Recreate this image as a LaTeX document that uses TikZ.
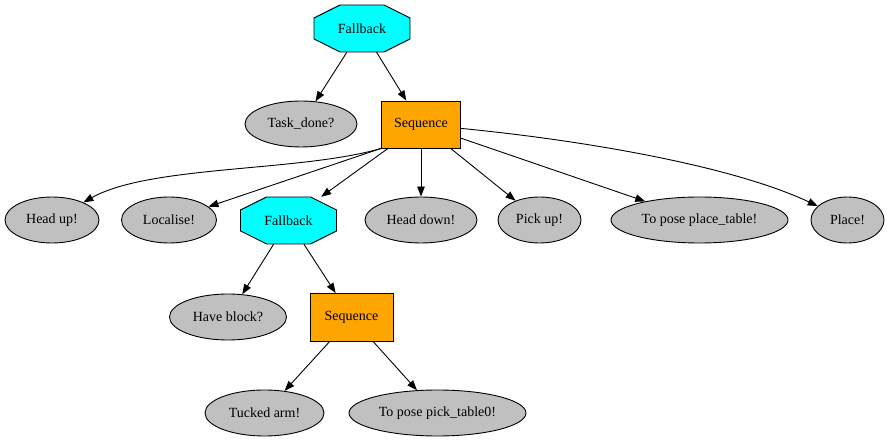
\documentclass[tikz,border=0pt]{standalone}
\usepackage{fontspec}
\setmainfont{Liberation Serif}
\usetikzlibrary{shapes.geometric,arrows.meta,backgrounds}
\definecolor{leafgray}{RGB}{192,192,192}
\definecolor{selcyan}{RGB}{0,255,255}
\definecolor{seqorange}{RGB}{255,165,0}
\tikzset{
  every node/.style={font=\fontsize{14pt}{16pt}\selectfont, inner sep=0pt},
  leaf/.style={ellipse, draw, line width=0.9pt, fill=leafgray, minimum height=46pt},
  seqbox/.style={rectangle, draw, line width=0.9pt, fill=seqorange, minimum width=79pt, minimum height=47pt},
  selbox/.style={rectangle, minimum width=96pt, minimum height=47pt},
  octo/.style={draw, line width=0.9pt, fill=selcyan},
  edge/.style={line width=0.9pt, -{Triangle[length=10pt,width=7.5pt]}}
}
\begin{document}
\begin{tikzpicture}[x=1pt,y=-1pt]
\useasboundingbox (0,0) rectangle (889,443);

% first level
\node[selbox] (fb1) at (362,28.5) {Fallback};
\node[leaf, minimum width=112pt] (done) at (301,124) {Task\_done?};
\node[seqbox] (seq1) at (421,124.5) {Sequence};

% children of the main sequence
\node[leaf, minimum width=94pt]  (headup)   at (52,220)  {Head up!};
\node[leaf, minimum width=95pt]  (localise) at (169,220) {Localise!};
\node[selbox] (fb2) at (288.5,220.5) {Fallback};
\node[leaf, minimum width=112pt] (headdown) at (421,220) {Head down!};
\node[leaf, minimum width=83pt]  (pickup)   at (539.5,220) {Pick up!};
\node[leaf, minimum width=177pt] (toplace)  at (699.5,220) {To pose place\_table!};
\node[leaf, minimum width=73pt]  (place)    at (847.5,220) {Place!};

% inner fallback
\node[leaf, minimum width=117pt] (block) at (228,317) {Have block?};
\node[seqbox, minimum width=83pt, minimum height=48pt] (seq2) at (351.5,317.5) {Sequence};

\node[leaf, minimum width=119pt] (tucked)  at (264.5,413) {Tucked arm!};
\node[leaf, minimum width=177pt] (topick)  at (437.5,413) {To pose pick\_table0!};

% octagon outlines of the fallback nodes
\begin{scope}[on background layer]
  \foreach \n in {fb1,fb2}
    \draw[octo] (\n.center) +(-22,-23.5) -- +(22,-23.5) -- +(48,-10.5) -- +(48,10.5)
      -- +(22,23.5) -- +(-22,23.5) -- +(-48,10.5) -- +(-48,-10.5) -- cycle;
\end{scope}

% connectors
\draw[edge] (fb1) -- (done);
\draw[edge] (fb1) -- (seq1);

\draw[edge] (seq1.south west) .. controls (300,172) and (150,165) .. (headup);
\draw[edge] (seq1.south west) -- (localise);
\draw[edge] (seq1) -- (fb2);
\draw[edge] (seq1) -- (headdown);
\draw[edge] (seq1) -- (pickup);
\draw[edge] (seq1) -- (toplace);
\draw[edge] (seq1) .. controls (580,140) and (730,165) .. (place);

\draw[edge] (fb2) -- (block);
\draw[edge] (fb2) -- (seq2);

\draw[edge] (seq2) -- (tucked);
\draw[edge] (seq2) -- (topick);
\end{tikzpicture}
\end{document}
